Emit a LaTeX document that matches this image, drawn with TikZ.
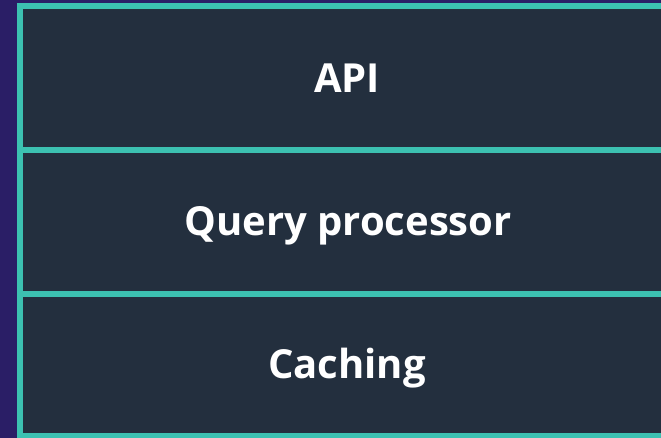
\documentclass[tikz,border=0pt]{standalone}
\usepackage{fontspec}
\setmainfont{Open Sans}
\definecolor{bgpurple}{HTML}{2A1E66}
\definecolor{panel}{HTML}{232F3E}
\definecolor{edge}{HTML}{3CC1B1}
\begin{document}
\begin{tikzpicture}[x=1pt,y=-1pt,
  layer/.style={draw=edge, line width=6pt, fill=panel},
  label/.style={text=white, font=\fontsize{40}{44}\selectfont\bfseries, anchor=base, inner sep=0pt}]
  % page background
  \fill[bgpurple] (0,0) rectangle (661,438);
  \useasboundingbox (0,0) rectangle (661,438);
  % three stacked layers, the right side runs past the edge
  \begin{scope}
    \clip (0,0) rectangle (661,438);
    \draw[layer] (20,6) rectangle (676,150);
    \draw[layer] (20,150) rectangle (676,294);
    \draw[layer] (20,294) rectangle (676,436);
  \end{scope}
  \node[label] (api) at (347,93) {API};
  \node[label] (qp) at (348,236) {Query processor};
  \node[label] (cache) at (347,378) {Caching};
\end{tikzpicture}
\end{document}
